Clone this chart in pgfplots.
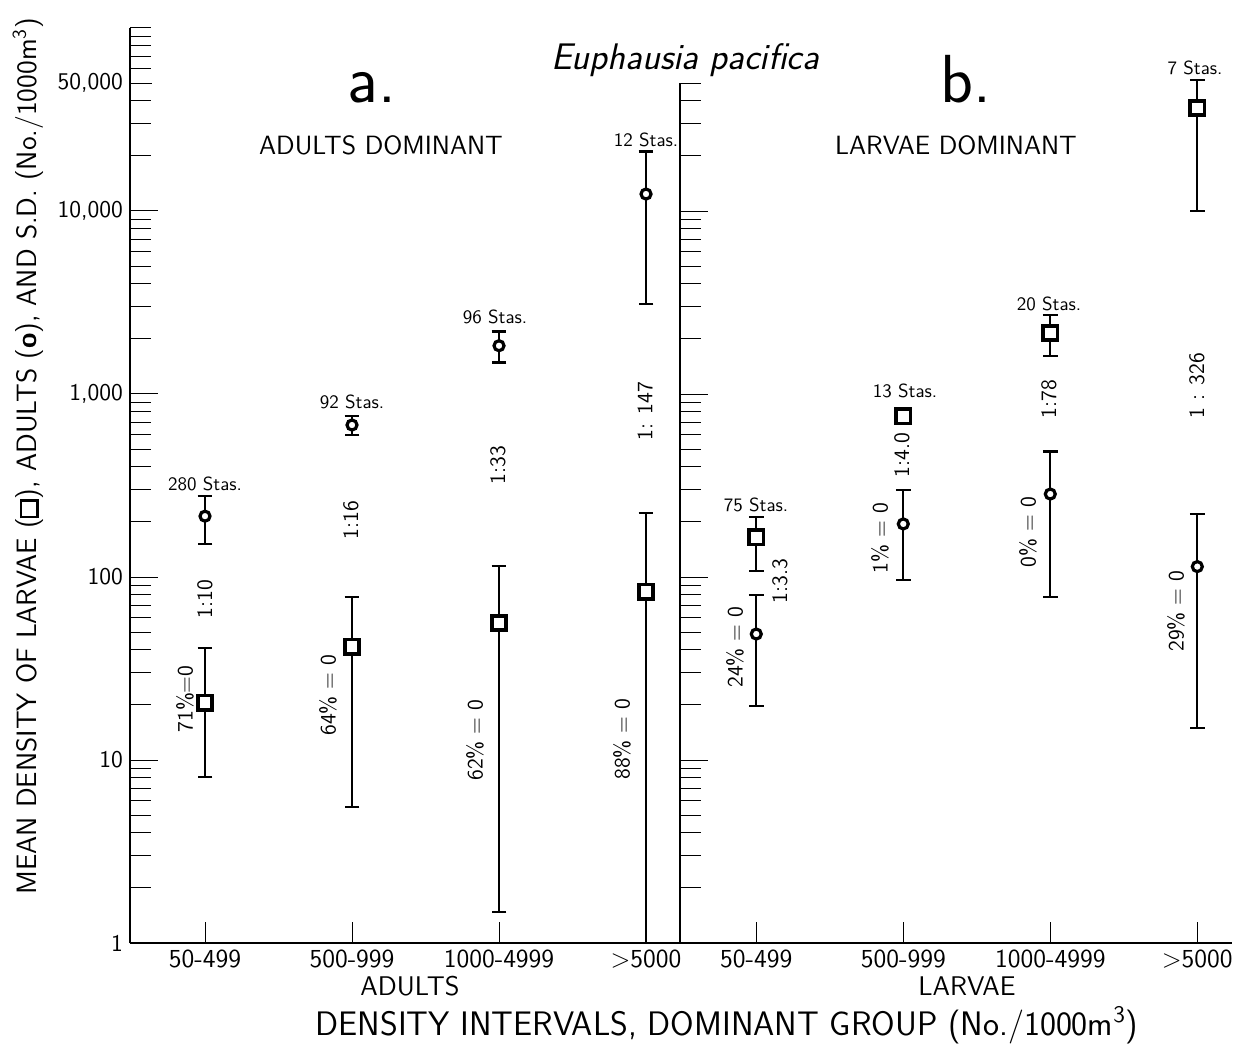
\documentclass[border=0pt]{standalone}
\usepackage{fontspec}
\usepackage{pgfplots}
\usepackage{pgfplotstable}
\pgfplotsset{compat=1.18}
\renewcommand{\familydefault}{\sfdefault}
\newcommand{\fs}[1]{\fontsize{#1}{#1}\selectfont}
\newcommand{\sq}{{\setlength{\fboxrule}{1.3pt}\setlength{\fboxsep}{0pt}\fbox{\rule{0pt}{0.5em}\hspace{0.5em}}}}
\newcommand{\fiftyk}{50,000}

% larvae (squares): mean, lower and upper end of the S.D. bar
\pgfplotstableread{
x     y      lo     hi
0     20.6   8.07   40.8
1     41.6   5.55   78
2     56     1.48   115
3     83     1      224
3.75  165    108    213
4.75  754    740    770
5.75  2154   1614   2704
6.75  36560  10020  51985
}\larvae

% adults (circles)
\pgfplotstableread{
x     y      lo     hi
0     215    151    278
1     677    597    761
2     1836   1483   2190
3     12380  3110   21100
3.75  48.8   19.7   79.6
4.75  195    96     299
5.75  284    78     484
6.75  114    15     221
}\adults

\begin{document}
\begin{tikzpicture}
\begin{axis}[
    at={(0pt,0pt)}, anchor=south west, scale only axis,
    width=551pt, height=457.5pt,
    xmin=-0.5102, xmax=6.986,
    ymode=log, ymin=1, ymax=100000,
    axis x line*=bottom, axis y line*=left,
    axis line style={-, line width=1pt},
    tick align=inside, tick style={black, line width=0.5pt},
    major tick length=14pt, minor tick length=10.5pt,
    xtick={0,1,2,3,3.75,4.75,5.75,6.75},
    xticklabels={50-499,500-999,1000-4999,>5000,50-499,500-999,1000-4999,>5000},
    x tick label style={font=\fs{13}},
    x tick style={/pgfplots/major tick length=10.5pt},
    ytick={1,10,100,1000,10000},
    yticklabels={1,10,100,{1,000},{10,000}},
    y tick label style={font=\fs{12}},
    minor ytick={2,3,4,5,6,7,8,9,20,30,40,50,60,70,80,90,200,300,400,500,600,700,800,900,
      2000,3000,4000,5000,6000,7000,8000,9000,20000,30000,40000,60000,70000,80000,90000,100000},
    extra y ticks={50000}, extra y tick labels={\fiftyk},
    extra y tick style={major tick length=11pt},
    clip=false,
]
\addplot[draw=none, mark=none, forget plot,
    error bars/.cd, y dir=both, y explicit,
    error bar style={draw=black, line width=1pt},
    error mark options={rotate=90, mark size=3.7pt, line width=1.2pt, black}]
    table[x=x, y=y, y error plus expr=\thisrow{hi}-\thisrow{y},
          y error minus expr=\thisrow{y}-\thisrow{lo}] {\larvae};
\addplot[draw=none, mark=none, forget plot,
    error bars/.cd, y dir=both, y explicit,
    error bar style={draw=black, line width=1pt},
    error mark options={rotate=90, mark size=3.7pt, line width=1.2pt, black}]
    table[x=x, y=y, y error plus expr=\thisrow{hi}-\thisrow{y},
          y error minus expr=\thisrow{y}-\thisrow{lo}] {\adults};
\addplot[only marks, mark=square*, mark size=3.6pt,
    mark options={fill=white, draw=black, line width=1.8pt}]
    table[x=x, y=y] {\larvae};
\addplot[only marks, mark=*, mark size=2.5pt,
    mark options={fill=white, draw=black, line width=1.6pt}]
    table[x=x, y=y] {\adults};
\end{axis}

% left spine of panel b
\begin{axis}[
    at={(275pt,0pt)}, anchor=south west, scale only axis,
    width=20pt, height=429.95pt,
    xmin=0, xmax=1, ymode=log, ymin=1, ymax=50000,
    hide x axis, axis y line*=left,
    axis line style={-, line width=1pt},
    tick align=inside, tick style={black, line width=0.5pt},
    major tick length=14pt, minor tick length=10.5pt,
    ytick={1,10,100,1000,10000}, yticklabels={},
    minor ytick={2,3,4,5,6,7,8,9,20,30,40,50,60,70,80,90,200,300,400,500,600,700,800,900,
      2000,3000,4000,5000,6000,7000,8000,9000,20000,30000,40000,50000},
]
\end{axis}

% text, placed in the reference's pixel coordinates
\begin{scope}[x=0.5pt, y=-0.5pt, shift={(-65pt,471.5pt)}]
\node[rotate=90, font=\fs{14}] at (28,456)
  {MEAN DENSITY OF LARVAE (\sq), ADULTS (\textbf{o}), AND S.D. (No./1000m\textsuperscript{3})};
\node[anchor=base, font=\fs{17}] at (727,1035)
  {DENSITY INTERVALS, DOMINANT GROUP (No./1000m\textsuperscript{3})};
\node[anchor=base, font=\fs{13.5}] at (410,995) {ADULTS};
\node[anchor=base, font=\fs{13.5}] at (967,995) {LARVAE};
\node[anchor=base, font=\fs{18.5}\itshape] at (685,70) {Euphausia pacifica};
\node[anchor=base, font=\fs{34}] at (372,103) {a.};
\node[anchor=base, font=\fs{34}] at (966,103) {b.};
\node[anchor=base, font=\fs{13.2}] at (381,155) {ADULTS DOMINANT};
\node[anchor=base, font=\fs{13.2}] at (956,155) {LARVAE DOMINANT};
% station counts
\begin{scope}[every node/.style={anchor=base, font=\fs{9.5}}]
\node at (205,491) {280 Stas.};
\node at (352,409) {92 Stas.};
\node at (495,324) {96 Stas.};
\node at (646,147) {12 Stas.};
\node at (756,512) {75 Stas.};
\node at (905,398) {13 Stas.};
\node at (1049,311) {20 Stas.};
\node at (1195,75) {7 Stas.};
\end{scope}
% ratios and percentages of zero catches
\begin{scope}[every node/.style={rotate=90, font=\fs{11}}]
\node at (205,599) {1:10};
\node at (185,699) {71\%=0};
\node at (351,520) {1:16};
\node at (328,695) {64\% = 0};
\node at (498,465) {1:33};
\node at (475,740) {62\% = 0};
\node at (645,411) {1: 147};
\node at (622,739) {88\% = 0};
\node at (735,647) {24\% = 0};
\node at (780,581) {1:3.3};
\node at (880,538) {1\% = 0};
\node at (902,455) {1:4.0};
\node at (1028,532) {0\% = 0};
\node at (1049,399) {1:78};
\node at (1176,611) {29\% = 0};
\node at (1197,386) {1 : 326};
\end{scope}
\end{scope}

\pgfresetboundingbox
\path[use as bounding box] (-65pt,-51pt) rectangle (555pt,471.5pt);
\end{tikzpicture}
\end{document}
